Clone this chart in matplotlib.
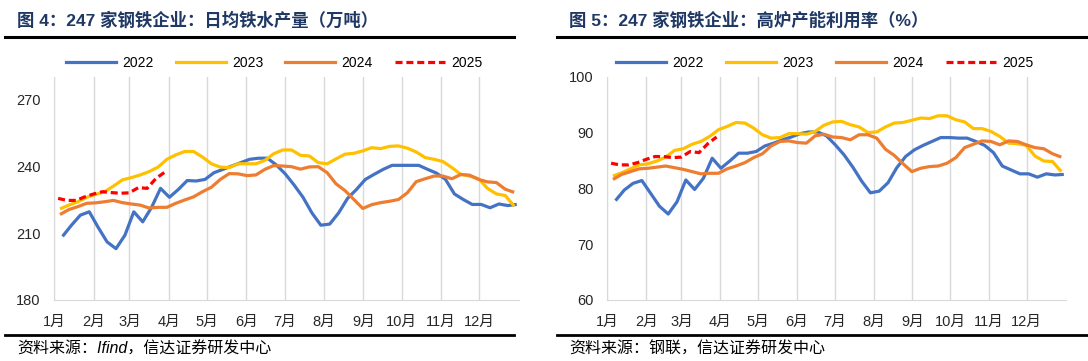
import numpy as np
import matplotlib.pyplot as plt
from matplotlib.lines import Line2D

plt.rcParams['font.family'] = ['Liberation Sans', 'Noto Sans CJK SC', 'DejaVu Sans']

# ---- data ----
years = ["2022", "2023", "2024", "2025"]
colors = ["#4472C4", "#FFC000", "#ED7D31", "#FF0000"]
start_day = {"2022": 6.5, "2023": 4.5, "2024": 4.5, "2025": 3.0}  # first weekly print, day of year

month_starts = [0, 31, 59, 90, 120, 151, 181, 212, 243, 273, 304, 334]
month_labels = ["1月", "2月", "3月", "4月", "5月", "6月", "7月", "8月", "9月", "10月", "11月", "12月"]

# daily hot metal output (10k t)
hm_2022 = [208.5, 213.5, 218, 219.5, 212.5, 206, 203, 209, 219.5, 215, 221.5, 230, 226,
           229.5, 233.5, 233.3, 234, 237, 238.5, 240, 241.5, 243, 243.5, 243.5, 240.5, 236.5,
           231.5, 226, 219, 213.5, 214, 219, 225.5, 229.5, 234, 236.3, 238.5, 240.3, 240.3,
           240.3, 240.3, 238.5, 236.8, 234, 227.5, 225, 222.8, 222.8, 221.3, 223, 222.3, 222.8]
hm_2023 = [220.8, 222.5, 224, 226, 227.3, 228.5, 231, 233.8, 234.8, 236, 237.5, 239.5, 243,
           245, 246.5, 246.5, 244, 241, 239.5, 239.3, 241, 241, 241, 242.5, 245.5, 247.2,
           247.2, 244.8, 244.5, 241.5, 241, 243.2, 245.3, 245.7, 246.8, 248.2, 247.8, 248.8, 249,
           248, 246.3, 243.8, 243, 242, 239.3, 236.3, 235.5, 234.3, 230, 227.5, 226.8, 222]
hm_2024 = [218.3, 220.5, 221.8, 223.3, 223.5, 224, 224.6, 223.6, 223, 222.5, 221.2, 221.5, 221.5,
           223.3, 224.8, 226.2, 228.5, 230.5, 234, 236.6, 236.5, 235.7, 236, 238.5, 240.2, 240,
           239.7, 238.6, 239.6, 239.7, 237, 232, 229, 225, 221, 222.7, 223.6, 224.2, 225,
           228, 233, 234.3, 235.5, 235.5, 234.3, 236.2, 235.9, 234, 232.9, 232.6, 229.6, 228.2]
hm_2025 = [225.5, 224.6, 224.6, 226.2, 227.5, 228.5, 228.1, 227.8, 228, 230.3, 230, 234.5, 237.3]

# blast furnace capacity utilisation (%)
bf_2022 = [77.8, 79.7, 80.9, 81.4, 79.1, 76.8, 75.4, 77.6, 81.5, 79.8, 81.8, 85.4, 83.6,
           84.9, 86.3, 86.3, 86.6, 87.6, 88.1, 88.7, 89.2, 89.8, 90.1, 90.1, 89.4, 87.8,
           86, 83.8, 81.3, 79.2, 79.5, 81, 83.7, 85.7, 86.9, 87.7, 88.4, 89.1, 89.1,
           89, 89, 88.4, 87.7, 86.4, 84, 83.3, 82.6, 82.6, 82, 82.6, 82.4, 82.5]
bf_2023 = [82.2, 82.8, 83.5, 84.2, 84.4, 84.9, 85.6, 86.8, 87.1, 87.9, 88.4, 89.3, 90.5,
           91.1, 91.8, 91.7, 90.8, 89.6, 89, 89.1, 89.8, 89.8, 89.7, 90.2, 91.3, 91.9,
           92, 91.4, 91, 90, 90.1, 91, 91.7, 91.8, 92.2, 92.6, 92.5, 93, 93,
           92.3, 91.9, 90.7, 90.7, 90.2, 89.3, 88.1, 88, 87.7, 85.8, 84.9, 84.8, 83]
bf_2024 = [81.6, 82.5, 83, 83.5, 83.6, 83.8, 84, 83.7, 83.4, 83, 82.6, 82.7, 82.7,
           83.5, 84, 84.6, 85.5, 86.2, 87.6, 88.4, 88.5, 88.2, 88.1, 89.4, 89.7, 89.2,
           89.1, 88.7, 89.6, 89.6, 89, 87, 85.9, 84.4, 83, 83.6, 83.9, 84, 84.5,
           85.5, 87.3, 87.9, 88.5, 88.4, 87.8, 88.5, 88.4, 87.8, 87.3, 87.1, 86.2, 85.6]
bf_2025 = [84.5, 84.2, 84.2, 84.6, 85.2, 85.7, 85.7, 85.5, 85.6, 86.6, 86.4, 88.0, 89.2]

panels = [
    dict(series=[hm_2022, hm_2023, hm_2024, hm_2025], ylim=(180, 280), yticks=[180, 210, 240, 270],
         title="图 4：247 家钢铁企业：日均铁水产量（万吨）", source="资料来源：Ifind，信达证券研发中心",
         rect=[0.0499, 0.169, 0.4268, 0.6185], legend_x=0.252, x0=0.005, x1=0.472),
    dict(series=[bf_2022, bf_2023, bf_2024, bf_2025], ylim=(60, 100), yticks=[60, 70, 80, 90, 100],
         title="图 5：247 家钢铁企业：高炉产能利用率（%）", source="资料来源：钢联，信达证券研发中心",
         rect=[0.5582, 0.169, 0.4213, 0.6185], legend_x=0.758, x0=0.512, x1=1.0),
]

fig = plt.figure(figsize=(10.88, 3.61), dpi=100)

for p in panels:
    ax = fig.add_axes(p["rect"])
    for yr, vals, c in zip(years, p["series"], colors):
        days = start_day[yr] + 7 * np.arange(len(vals))
        ls = "--" if yr == "2025" else "-"
        ax.plot(days, vals, color=c, lw=2.3, ls=ls, label=yr,
                dashes=(2.2, 1.2) if yr == "2025" else (None, None), solid_capstyle="butt")
    ax.set_xlim(0, 365)
    ax.set_ylim(*p["ylim"])
    ax.set_yticks(p["yticks"])
    ax.set_xticks(month_starts)
    ax.set_xticklabels(month_labels)
    ax.grid(axis="x", color="#D9D9D9", lw=1)
    ax.set_axisbelow(True)
    for s in ["top", "right"]:
        ax.spines[s].set_visible(False)
    for s in ["left", "bottom"]:
        ax.spines[s].set_color("#D9D9D9")
    ax.tick_params(length=0, labelsize=10.5, colors="#262626")
    ax.tick_params(axis="y", pad=10)
    ax.tick_params(axis="x", pad=11)

    handles = [Line2D([], [], color=c, lw=2.3, ls="--" if yr == "2025" else "-",
                      dashes=(2.2, 1.2) if yr == "2025" else (None, None)) for yr, c in zip(years, colors)]
    fig.legend(handles, years, loc="center", bbox_to_anchor=(p["legend_x"], 1 - 63 / 361), ncol=4,
               frameon=False, fontsize=10, handlelength=3.6, handletextpad=0.45, columnspacing=1.6)

    fig.text(p["x0"] + 0.011, 1 - 20 / 361, p["title"], fontsize=12.5, fontweight="bold",
             color="#1F3864", va="center", ha="left")
    fig.add_artist(Line2D([p["x0"], p["x1"]], [1 - 37 / 361] * 2, color="black", lw=2.2))
    fig.add_artist(Line2D([p["x0"], p["x1"]], [1 - 335 / 361] * 2, color="black", lw=2))
    fig.text(p["x0"] + 0.011, 1 - 349 / 361, p["source"], fontsize=11.5, style="italic",
             color="black", va="center", ha="left")

plt.savefig("out.png", dpi=100)
